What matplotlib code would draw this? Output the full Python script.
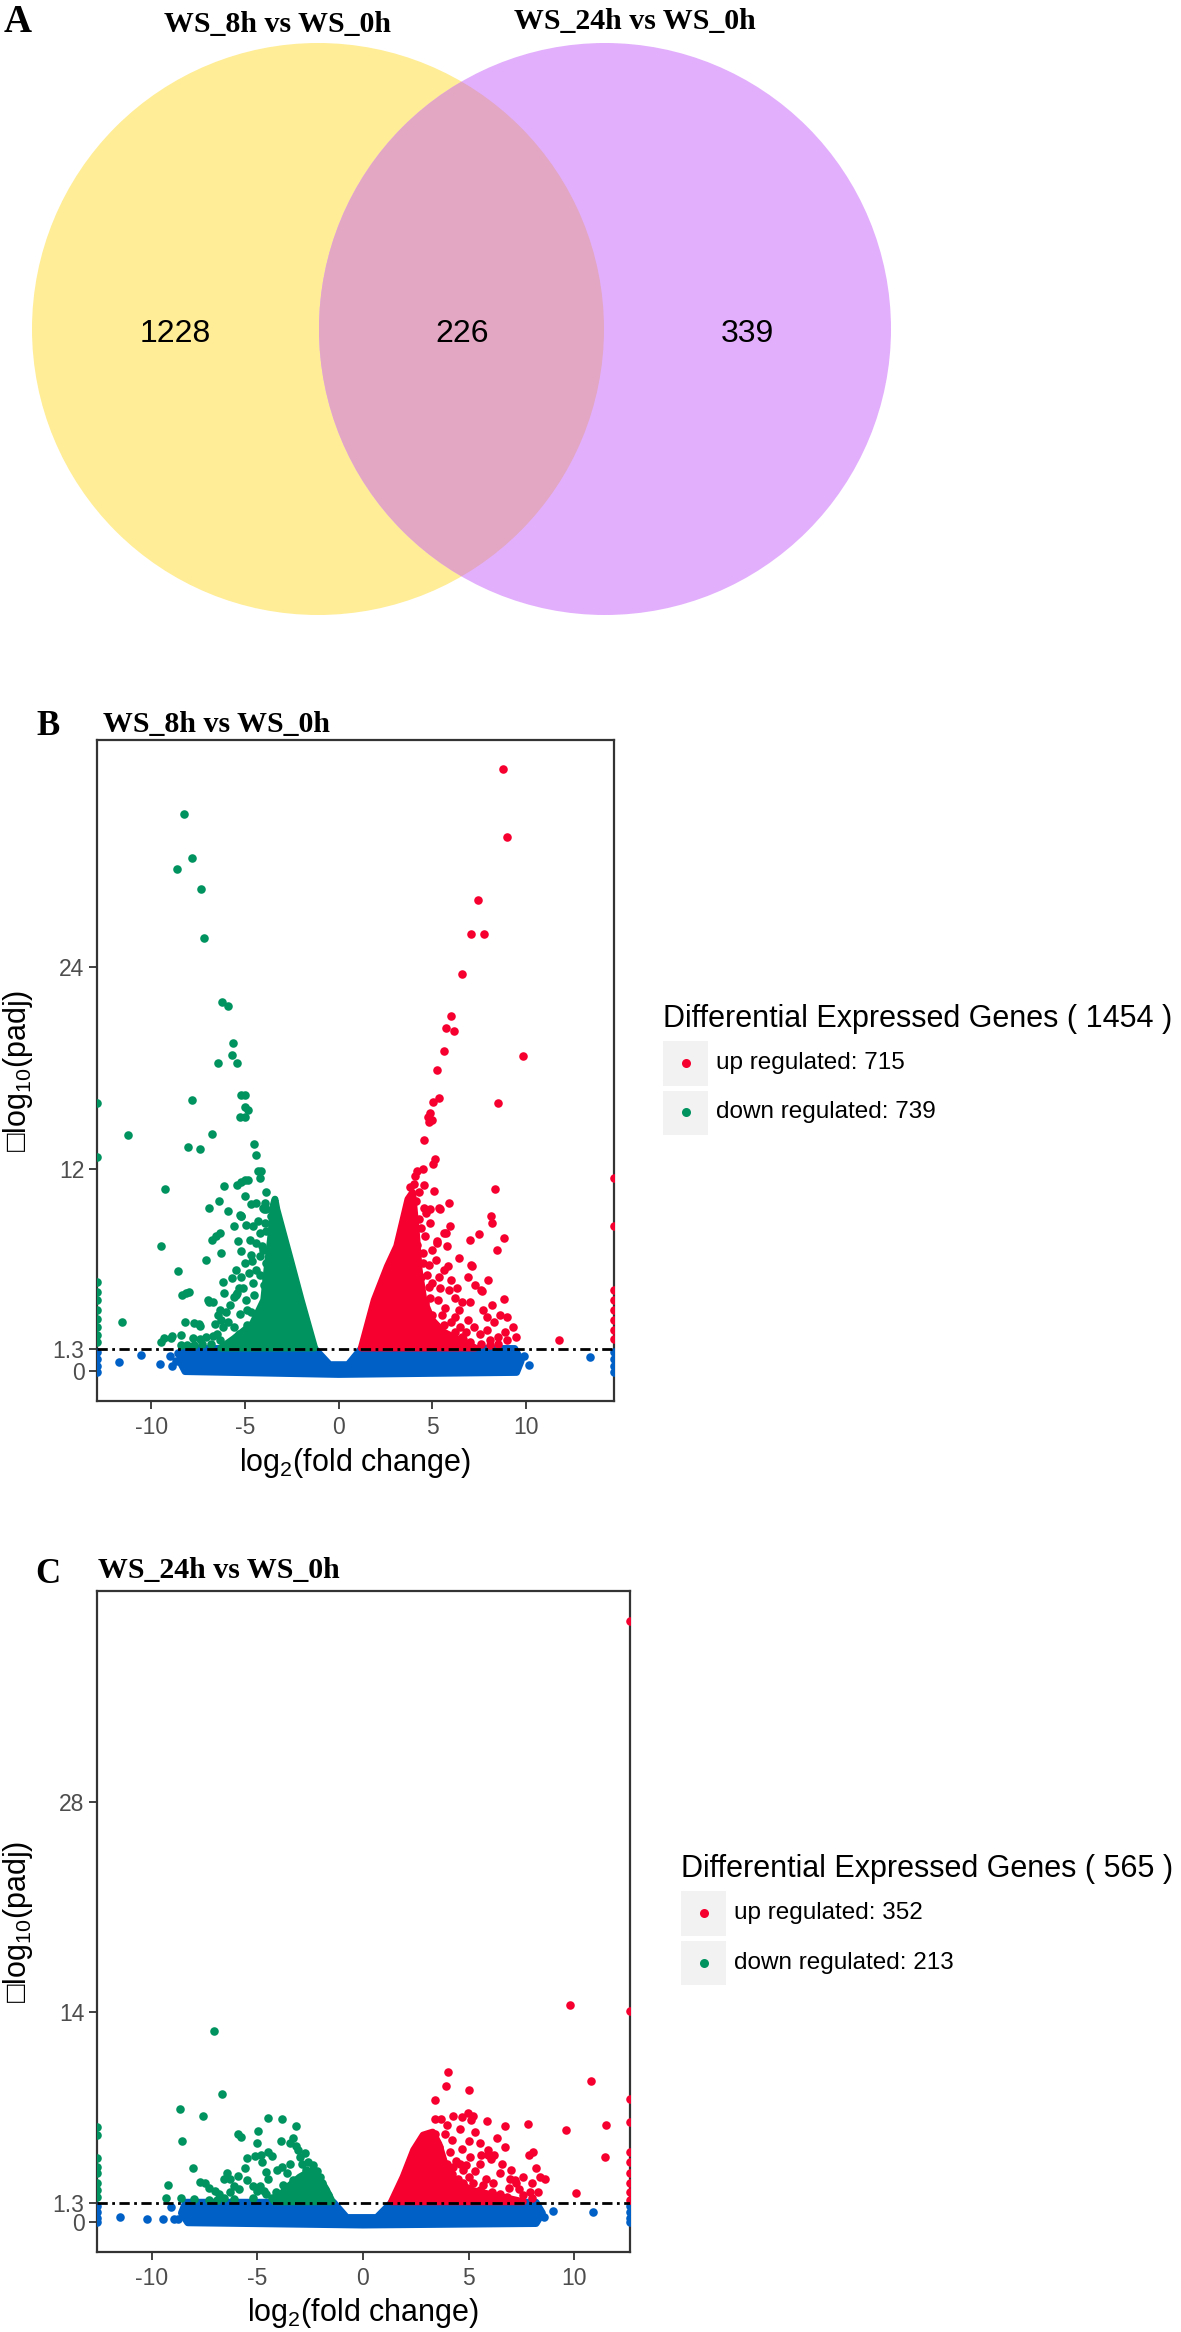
import numpy as np
import matplotlib
matplotlib.use('Agg')
import matplotlib.pyplot as plt
from matplotlib.patches import Circle, Rectangle
from matplotlib.lines import Line2D

plt.rcParams['font.family'] = ['Liberation Sans', 'DejaVu Sans']
plt.rcParams['mathtext.fontset'] = 'custom'
plt.rcParams['mathtext.rm'] = 'Liberation Sans'
plt.rcParams['mathtext.default'] = 'regular'

# ---- Venn (panel A) ----
venn_names = ['WS_8h vs WS_0h', 'WS_24h vs WS_0h']
venn_counts = [1228, 226, 339]   # only 8h, shared, only 24h

# ---- colours ----
UP = '#F5002F'
DOWN = '#00925F'
NS = '#0060C6'

# ---- panel B: WS_8h vs WS_0h ----
b_xlim = (-12.9, 14.7)
b_ylim = (-1.8, 37.5)
b_yticks = [0, 1.3, 12, 24]
b_up_n, b_down_n = 715, 739

b_down = [(-8.27, 33.1), (-7.81, 30.5), (-8.63, 29.85), (-7.33, 28.66), (-7.21, 25.7),
          (-6.21, 21.9), (-5.91, 21.7), (-5.64, 19.5), (-5.68, 18.8), (-6.44, 18.3),
          (-5.41, 18.3), (-7.81, 16.1), (-5.2, 16.4), (-5.02, 16.4), (-5.02, 15.7),
          (-4.84, 15.5), (-5.29, 15.1), (-5.02, 15.1), (-11.25, 14.0), (-6.74, 14.1),
          (-8.05, 13.3), (-7.39, 13.2), (-4.54, 13.5), (-4.43, 12.8), (-4.31, 11.9),
          (-4.13, 11.9), (-4.22, 11.45), (-5.02, 11.35), (-4.84, 11.35), (-5.2, 11.25),
          (-5.41, 11.05), (-6.14, 11.0), (-9.25, 10.8), (-3.9, 10.6), (-6.39, 10.1),
          (-6.92, 9.7), (-4.43, 10.0), (-3.95, 10.0), (-4.04, 9.67), (-3.86, 9.6),
          (-3.6, 9.2), (-5.2, 9.2), (-9.47, 7.43), (-8.56, 5.9), (-8.37, 4.5),
          (-8.17, 4.6), (-7.97, 4.7), (-11.55, 2.87), (-8.2, 2.87), (-7.7, 2.85),
          (-7.45, 2.75), (-9.3, 1.95), (-8.9, 2.05), (-8.4, 2.1), (-5.23, 9.2),
          (-4.0, 9.6), (-6.57, 8.0), (-6.78, 7.8), (-6.35, 8.2), (-7.09, 6.6),
          (-6.3, 7.0), (-6.18, 5.3), (-5.3, 4.9), (-5.45, 4.6), (-5.6, 4.4),
          (-6.9, 4.1), (-6.7, 4.1), (-6.45, 3.3), (-6.3, 3.0), (-6.6, 2.8),
          (-9.46, 1.68), (-8.93, 1.94), (-7.8, 1.95), (-7.4, 1.9), (-7.1, 2.0),
          (-5.38, 7.7), (-5.29, 9.27), (-4.93, 8.67), (-4.58, 8.58), (-4.75, 7.78),
          (-4.4, 7.6), (-4.22, 8.18), (-3.86, 8.28), (-4.04, 7.19), (-3.86, 6.4),
          (-6.98, 4.2), (-6.35, 3.6), (-6.18, 2.6), (-5.46, 4.5), (-5.1, 4.9),
          (-4.93, 4.2), (-5.29, 3.4), (-4.58, 5.2), (-7.42, 2.65), (-6.7, 2.05),
          (-6.35, 1.8), (-4.9, 2.7), (-4.4, 3.1), (-4.0, 3.6), (-4.6, 2.3),
          (-5.6, 2.6), (-5.3, 2.2), (-3.9, 5.5), (-3.7, 4.7), (-4.2, 5.7), (-4.0, 5.1),
          (-4.7, 3.5), (-4.5, 4.5), (-4.4, 6.0), (-4.2, 6.8), (-4.1, 7.4),
          (-3.95, 8.8), (-4.3, 8.9), (-4.6, 6.5), (-4.8, 5.8), (-5.0, 6.4),
          (-5.2, 7.1), (-5.5, 6.0), (-5.7, 5.5), (-5.8, 3.9), (-6.0, 3.5),
          (-6.1, 4.6), (-5.9, 2.9), (-5.2, 5.6), (-4.9, 3.6), (-4.7, 6.9),
          (-5.6, 8.6), (-5.9, 9.5), (-5.0, 10.4), (-4.7, 9.9), (-7.7, 1.5),
          (-7.3, 1.6), (-6.8, 1.6), (-6.5, 2.2), (-8.1, 1.55), (-8.4, 1.5),
          (-12.9, 15.9), (-12.9, 12.7), (-12.9, 5.3), (-12.9, 4.7), (-12.9, 4.2),
          (-12.9, 3.6), (-12.9, 3.1), (-12.9, 2.6), (-12.9, 2.1), (-12.9, 1.7)]

b_up = [(8.78, 35.75), (8.99, 31.75), (7.44, 28.0), (7.08, 25.95), (7.74, 25.95),
        (6.6, 23.6), (6.02, 21.1), (5.75, 20.4), (6.14, 20.2), (5.63, 19.0),
        (5.27, 17.9), (5.36, 16.2), (5.04, 16.0), (9.86, 18.7), (8.51, 15.9),
        (4.77, 15.1), (4.9, 15.3), (4.85, 14.8), (5.0, 14.9), (4.54, 13.7),
        (5.13, 12.6), (5.04, 12.3), (4.5, 12.0), (4.2, 11.9), (4.1, 11.6),
        (8.33, 10.8), (4.56, 11.05), (5.07, 10.7), (4.3, 10.6), (4.15, 10.1),
        (5.89, 9.95), (5.4, 9.6), (4.9, 9.6), (4.55, 9.7), (8.15, 9.2),
        (8.2, 8.8), (8.84, 7.9), (8.48, 7.2), (7.47, 8.1), (7.0, 7.8),
        (6.45, 6.7), (7.1, 6.25), (7.65, 4.75), (7.0, 4.1), (8.84, 4.25),
        (8.6, 3.3), (9.0, 3.2), (9.3, 2.6), (8.86, 2.3), (9.0, 1.8), (9.45, 2.0),
        (11.77, 1.8), (4.67, 9.4), (5.38, 9.7), (4.9, 8.8), (5.93, 8.6),
        (5.73, 8.2), (5.26, 7.6), (4.19, 7.5), (5.86, 6.2), (5.38, 5.6),
        (5.62, 8.2), (5.27, 7.7), (5.8, 7.4), (7.62, 4.8), (7.7, 3.6),
        (7.2, 2.6), (7.55, 2.2), (8.06, 1.8), (6.65, 1.9), (7.08, 6.3),
        (5.0, 5.2), (5.4, 4.9), (5.9, 4.8), (6.2, 4.3), (5.7, 3.7), (5.0, 3.3),
        (4.6, 4.0), (4.6, 3.1), (5.0, 2.7), (5.6, 2.7), (6.2, 2.3), (6.2, 3.2),
        (6.9, 3.0), (4.4, 5.6), (4.8, 6.3), (4.5, 7.0), (6.0, 2.0), (6.8, 2.3),
        (7.9, 2.4), (8.3, 2.9),
        (4.4, 8.5), (4.6, 8.0), (4.5, 6.4), (4.8, 5.0), (4.9, 4.3), (5.3, 4.2),
        (5.5, 3.3), (5.2, 2.4), (6.0, 2.9), (6.5, 2.6), (6.6, 2.0), (7.0, 1.7),
        (7.6, 1.6), (8.1, 1.5), (8.5, 1.6), (4.7, 5.7), (4.3, 9.0), (4.0, 11.1),
        (3.8, 10.9), (5.2, 6.6), (6.0, 5.4), (6.3, 4.9), (6.6, 4.1), (6.9, 5.6),
        (7.3, 5.1), (8.0, 5.4), (8.2, 3.9), (7.9, 3.2), (8.5, 2.0), (5.6, 6.0),
        (5.0, 7.2), (6.4, 3.6),
        (14.7, 11.45), (14.7, 8.6), (14.7, 4.8), (14.7, 4.2), (14.7, 3.6),
        (14.7, 3.0), (14.7, 2.4), (14.7, 1.9)]

b_ns = [(-11.73, 0.5), (-10.57, 0.95), (-9.52, 0.4), (-8.92, 0.26), (-9.0, 0.9),
        (-8.7, 0.6), (-8.6, 1.05), (10.14, 0.36), (13.41, 0.8), (9.9, 0.9),
        (-12.9, 1.1), (-12.9, 0.7), (-12.9, 0.3), (-12.9, -0.1),
        (14.7, 1.1), (14.7, 0.7), (14.7, 0.3), (14.7, -0.1)]

# outlines of the saturated (overplotted) regions
b_down_core = [(-6.3, 1.35), (-5.6, 1.9), (-4.6, 2.8), (-4.0, 4.2), (-3.8, 6.3),
               (-3.6, 8.2), (-3.5, 9.8), (-3.4, 10.2), (-3.3, 9.6), (-2.55, 6.5),
               (-2.0, 4.2), (-1.28, 1.35)]
b_up_core = [(1.21, 1.35), (1.9, 4.2), (2.6, 6.2), (3.1, 7.4), (3.7, 10.2),
             (3.95, 10.6), (4.15, 8.2), (4.3, 6.0), (4.55, 4.2), (5.0, 3.0),
             (5.6, 2.3), (6.5, 1.8), (7.3, 1.35)]
b_ns_core = [(-8.3, 1.32), (-1.28, 1.32), (-0.48, 0.36), (0.5, 0.36), (1.21, 1.32),
             (9.4, 1.32), (9.75, 0.6), (9.5, -0.1), (0.0, -0.22), (-8.2, -0.05),
             (-8.5, 0.6)]

# ---- panel C: WS_24h vs WS_0h ----
c_xlim = (-12.6, 12.65)
c_ylim = (-2.0, 42.1)
c_yticks = [0, 1.3, 14, 28]
c_up_n, c_down_n = 352, 213

c_down = [(-7.04, 12.73), (-6.69, 8.53), (-8.69, 7.53), (-8.58, 5.42), (-7.56, 7.07),
          (-8.06, 3.58), (-9.26, 2.47), (-9.34, 1.58), (-8.6, 1.6), (-4.48, 6.95),
          (-3.85, 6.87), (-3.17, 6.4), (-4.98, 6.07), (-5.9, 5.9), (-5.79, 5.7),
          (-5.03, 5.25), (-3.88, 5.4), (-3.3, 5.6), (-3.45, 5.25), (-3.17, 5.1),
          (-5.5, 4.3), (-5.1, 4.4), (-4.85, 4.5), (-4.5, 4.7), (-4.3, 4.4),
          (-4.8, 4.0), (-4.6, 3.35), (-6.45, 3.3), (-6.3, 2.9), (-6.6, 2.9),
          (-6.1, 2.4), (-5.85, 2.2), (-7.7, 2.7), (-7.5, 2.6), (-7.3, 2.3),
          (-7.0, 2.1), (-6.8, 1.9), (-5.2, 2.4), (-4.9, 2.4), (-4.7, 2.1),
          (-5.0, 2.1), (-4.08, 3.47), (-3.85, 3.7), (-3.61, 3.25), (-3.45, 3.9),
          (-3.06, 4.8), (-2.98, 4.35), (-2.74, 4.58), (-2.9, 3.9), (-2.59, 4.0),
          (-2.38, 3.8), (-2.36, 3.25), (-2.19, 2.8), (-2.03, 3.0), (-1.95, 2.58),
          (-1.8, 2.13), (-1.64, 1.8), (-3.0, 2.6), (-2.8, 2.4), (-2.6, 2.6),
          (-2.4, 2.2), (-3.5, 2.2), (-3.2, 1.9), (-2.9, 1.7), (-4.3, 1.6),
          (-5.2, 1.6), (-6.1, 1.55), (-6.9, 1.5), (-7.3, 1.45), (-8.0, 1.55),
          (-3.8, 2.5), (-3.3, 2.8), (-2.7, 3.5), (-2.2, 3.4), (-1.9, 2.0),
          (-2.1, 1.6), (-3.7, 1.7), (-4.5, 2.9), (-4.1, 2.0), (-5.5, 2.8),
          (-5.6, 3.6), (-5.9, 3.1), (-6.3, 2.0), (-6.6, 1.6), (-4.6, 1.9),
          (-12.6, 6.36), (-12.6, 5.8), (-12.6, 4.25), (-12.6, 3.7), (-12.6, 3.25),
          (-12.6, 2.6), (-12.6, 2.13), (-12.6, 1.7)]

c_up = [(4.04, 10.02), (3.93, 9.07), (5.03, 8.84), (3.41, 8.13), (4.98, 7.3),
        (5.22, 7.1), (5.1, 6.8), (4.67, 7.0), (4.27, 7.05), (3.72, 6.9),
        (3.41, 6.85), (5.88, 6.73), (6.72, 6.4), (6.37, 5.62), (6.71, 4.98),
        (3.41, 5.9), (3.88, 5.9), (4.2, 5.47), (5.03, 5.4), (5.54, 5.25),
        (5.93, 4.8), (5.9, 4.5), (6.06, 4.2), (3.17, 5.13), (3.33, 4.69),
        (4.12, 4.69), (4.67, 4.84), (5.06, 4.35), (4.59, 3.9), (4.9, 3.8),
        (4.27, 3.7), (3.96, 3.9), (3.8, 3.35), (4.75, 3.45), (5.54, 3.9),
        (5.85, 2.9), (6.48, 3.3), (6.96, 2.9), (6.17, 2.58), (5.54, 2.13),
        (5.22, 2.58), (4.75, 2.58), (4.27, 2.47), (4.04, 2.8), (6.48, 1.9),
        (6.8, 1.7), (7.27, 2.58), (9.82, 14.5), (10.81, 9.4), (9.61, 6.17),
        (11.51, 6.44), (11.45, 4.34), (10.08, 1.95), (7.81, 6.57), (7.86, 4.48),
        (8.07, 4.64), (8.2, 3.6), (8.4, 3.0), (8.0, 2.6), (8.6, 2.9), (7.9, 2.0),
        (8.3, 2.0), (7.2, 2.8), (7.4, 2.2), (7.6, 3.0),
        (3.0, 5.5), (3.6, 5.0), (3.5, 4.2), (3.0, 4.3), (4.4, 4.1), (4.2, 3.2),
        (4.5, 2.9), (5.0, 3.0), (5.3, 3.4), (5.7, 2.5), (6.1, 2.0), (5.9, 1.7),
        (6.9, 2.3), (7.6, 1.8), (8.0, 1.6), (7.0, 3.5), (6.6, 3.9), (6.2, 4.5),
        (5.6, 4.5), (5.3, 6.0), (4.6, 6.2), (4.0, 6.5),
        (12.65, 40.1), (12.65, 14.1), (12.65, 8.2), (12.65, 6.7), (12.65, 4.7),
        (12.65, 4.0), (12.65, 3.3), (12.65, 2.6), (12.65, 2.0), (12.65, 1.5)]

c_ns = [(-11.5, 0.35), (-10.25, 0.2), (-9.45, 0.18), (-8.97, 0.18), (-8.74, 0.18),
        (-9.1, 1.02), (8.56, 0.31), (8.98, 0.71), (10.92, 0.67),
        (-12.6, 1.1), (-12.6, 0.7), (-12.6, 0.3), (-12.6, 0.0),
        (12.65, 1.1), (12.65, 0.7), (12.65, 0.3), (12.65, 0.0)]

c_down_core = [(-4.2, 1.35), (-3.6, 2.3), (-3.0, 3.0), (-2.5, 3.4), (-2.1, 3.0),
               (-1.75, 2.2), (-1.45, 1.35)]
c_up_core = [(1.35, 1.35), (1.9, 3.0), (2.4, 4.8), (2.85, 5.8), (3.3, 6.0),
             (3.6, 5.2), (3.9, 3.8), (4.4, 2.7), (5.2, 2.1), (6.5, 1.7), (7.6, 1.35)]
c_ns_core = [(-8.4, 1.32), (-1.4, 1.32), (-0.77, 0.3), (0.65, 0.3), (1.36, 1.32),
             (8.2, 1.32), (8.5, 0.6), (8.2, -0.1), (0.0, -0.2), (-8.3, -0.05),
             (-8.6, 0.6)]

THRESHOLD = 1.3
x_ticks = [-10, -5, 0, 5, 10]

W, H = 1181, 2332
fig = plt.figure(figsize=(W / 100, H / 100), dpi=100)


def fx(px):
    return px / W


def fy(py):
    return 1 - py / H


SERIF = ['Liberation Serif', 'DejaVu Serif']

# ---------------- Venn ----------------
axv = fig.add_axes([0, fy(640), 1, 640 / H])
axv.set_xlim(0, W)
axv.set_ylim(640, 0)
axv.axis('off')
left = Circle((318, 329), 286, facecolor='#FFED97', edgecolor='none')
right = Circle((605, 329), 286, facecolor='#E2AFFC', edgecolor='none')
both = Circle((605, 329), 286, facecolor='#E3A7C3', edgecolor='none')
axv.add_patch(left)
axv.add_patch(right)
axv.add_patch(both)
both.set_clip_path(left)
for xpos, n in zip([175, 462, 747], venn_counts):
    axv.text(xpos, 342, str(n), fontsize=23, ha='center', va='baseline')
fig.text(fx(18), fy(32), 'A', fontsize=28, fontweight='bold', family=SERIF,
         ha='center', va='baseline')
fig.text(fx(278), fy(32), venn_names[0], fontsize=21.5, fontweight='bold',
         family=SERIF, ha='center', va='baseline')
fig.text(fx(635), fy(29), venn_names[1], fontsize=21.5, fontweight='bold',
         family=SERIF, ha='center', va='baseline')


def unzip(pts):
    a = np.array(pts)
    return a[:, 0], a[:, 1]


def volcano(rect, up, down, ns, up_core, down_core, ns_core, xlim, ylim, yticks):
    ax = fig.add_axes(rect)
    for core, col in [(ns_core, NS), (down_core, DOWN), (up_core, UP)]:
        cx, cy = unzip(core)
        ax.fill(cx, cy, facecolor=col, edgecolor=col, lw=5, joinstyle='round', zorder=2)
    for pts, col in [(ns, NS), (down, DOWN), (up, UP)]:
        px, py = unzip(pts)
        ax.scatter(px, py, s=38, c=col, linewidths=0, zorder=3)
    ax.axhline(THRESHOLD, color='black', lw=2, linestyle=(0, (3.7, 1.6, 1, 1.6)), zorder=5)
    ax.set_xlim(*xlim)
    ax.set_ylim(*ylim)
    ax.set_xticks(x_ticks)
    ax.set_xticklabels([str(t) for t in x_ticks])
    ax.set_yticks(yticks)
    ax.set_yticklabels([('%g' % t) for t in yticks])
    ax.tick_params(direction='out', length=6, width=1.3, color='#333333',
                   labelcolor='#4D4D4D', labelsize=16.5)
    ax.tick_params(axis='x', pad=5)
    ax.tick_params(axis='y', pad=3)
    for sp in ax.spines.values():
        sp.set_color('#333333')
        sp.set_linewidth(1.6)
    ax.set_xlabel(r'log$_2$(fold change)', fontsize=22)
    ax.set_ylabel('\u25a1log$_{10}$(padj)', fontsize=22)
    return ax


def legend(x0, y_base, total, up_n, down_n):
    fig.text(fx(x0), fy(y_base), 'Differential Expressed Genes ( %d )' % total,
             fontsize=22, ha='left', va='baseline')
    items = [('up regulated: %d' % up_n, UP), ('down regulated: %d' % down_n, DOWN)]
    for i, (lab, col) in enumerate(items):
        top = y_base + 14 + i * 49.5
        fig.add_artist(Rectangle((fx(x0), fy(top + 44.5)), 45 / W, 44.5 / H,
                                 transform=fig.transFigure, facecolor='#F2F2F2',
                                 edgecolor='none'))
        fig.add_artist(Line2D([fx(x0 + 22.5)], [fy(top + 22)], marker='o', ms=6.5,
                              color=col, mec='none', transform=fig.transFigure))
        fig.text(fx(x0 + 53), fy(top + 22), lab, fontsize=17.5, ha='left', va='center')


# ---------------- panel B ----------------
axb = volcano([fx(97), fy(1401), (614 - 97) / W, (1401 - 740) / H],
              b_up, b_down, b_ns, b_up_core, b_down_core, b_ns_core,
              b_xlim, b_ylim, b_yticks)
axb.xaxis.set_label_coords(0.499, (1401 - 1463) / 661)
axb.xaxis.label.set_va('center')
axb.yaxis.set_label_coords((18 - 97) / 517, 0.5)
axb.yaxis.label.set_va('center')
fig.text(fx(48), fy(735), 'B', fontsize=25, fontweight='bold', family=SERIF,
         ha='center', va='baseline')
fig.text(fx(103), fy(732), venn_names[0], fontsize=21.5, fontweight='bold',
         family=SERIF, ha='left', va='baseline')
legend(663, 1027, b_up_n + b_down_n, b_up_n, b_down_n)

# ---------------- panel C ----------------
axc = volcano([fx(97), fy(2252), (630 - 97) / W, (2252 - 1591) / H],
              c_up, c_down, c_ns, c_up_core, c_down_core, c_ns_core,
              c_xlim, c_ylim, c_yticks)
axc.xaxis.set_label_coords(0.499, (2252 - 2313) / 661)
axc.xaxis.label.set_va('center')
axc.yaxis.set_label_coords((18 - 97) / 533, 0.5)
axc.yaxis.label.set_va('center')
fig.text(fx(48), fy(1583), 'C', fontsize=25, fontweight='bold', family=SERIF,
         ha='center', va='baseline')
fig.text(fx(98), fy(1578), venn_names[1], fontsize=21.5, fontweight='bold',
         family=SERIF, ha='left', va='baseline')
legend(681, 1877, c_up_n + c_down_n, c_up_n, c_down_n)

fig.savefig('out.png', dpi=100)
